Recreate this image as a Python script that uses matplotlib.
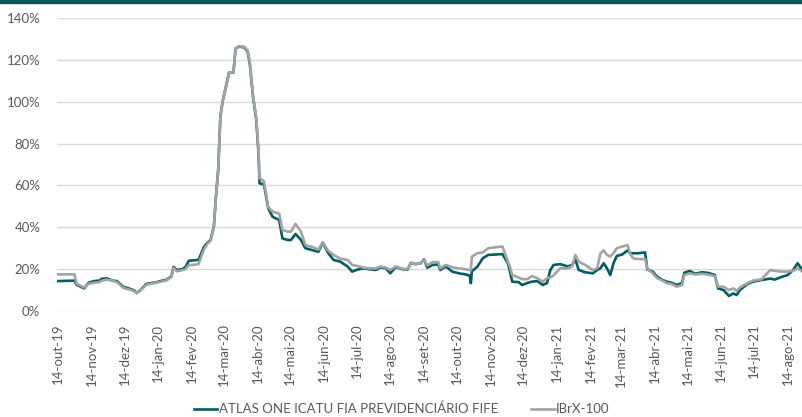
import pandas as pd
import matplotlib.pyplot as plt
from matplotlib.patches import Rectangle
from matplotlib.ticker import PercentFormatter

plt.rcParams["font.family"] = ["Lato", "DejaVu Sans"]

dates = [
    "2019-10-14", "2019-10-29", "2019-10-31", "2019-11-07", "2019-11-11", "2019-11-16",
    "2019-11-21", "2019-11-23", "2019-11-28", "2019-12-03", "2019-12-07", "2019-12-13",
    "2019-12-18", "2019-12-23", "2019-12-25", "2019-12-29", "2020-01-03", "2020-01-07",
    "2020-01-12", "2020-01-16", "2020-01-21", "2020-01-26", "2020-01-28", "2020-01-31",
    "2020-02-05", "2020-02-08", "2020-02-11", "2020-02-16", "2020-02-20", "2020-02-25",
    "2020-02-28", "2020-03-02", "2020-03-05", "2020-03-07", "2020-03-09", "2020-03-11",
    "2020-03-13", "2020-03-16", "2020-03-19", "2020-03-23", "2020-03-25", "2020-03-28",
    "2020-04-02", "2020-04-05", "2020-04-07", "2020-04-10", "2020-04-13", "2020-04-15",
    "2020-04-16", "2020-04-20", "2020-04-24", "2020-04-28", "2020-05-04", "2020-05-07",
    "2020-05-12", "2020-05-15", "2020-05-19", "2020-05-24", "2020-05-28", "2020-06-04",
    "2020-06-09", "2020-06-13", "2020-06-18", "2020-06-23", "2020-06-29", "2020-07-06",
    "2020-07-10", "2020-07-15", "2020-07-20", "2020-07-25", "2020-08-01", "2020-08-05",
    "2020-08-10", "2020-08-14", "2020-08-19", "2020-08-25", "2020-08-30", "2020-09-02",
    "2020-09-06", "2020-09-11", "2020-09-14", "2020-09-17", "2020-09-22", "2020-09-27",
    "2020-09-29", "2020-10-04", "2020-10-10", "2020-10-16", "2020-10-22", "2020-10-26",
    "2020-10-27", "2020-10-28", "2020-11-02", "2020-11-07", "2020-11-12", "2020-11-19",
    "2020-11-25", "2020-11-30", "2020-12-02", "2020-12-04", "2020-12-10", "2020-12-13",
    "2020-12-18", "2020-12-22", "2020-12-27", "2021-01-01", "2021-01-05", "2021-01-08",
    "2021-01-11", "2021-01-17", "2021-01-24", "2021-01-28", "2021-01-31", "2021-02-03",
    "2021-02-09", "2021-02-16", "2021-02-20", "2021-02-23", "2021-02-26", "2021-03-01",
    "2021-03-04", "2021-03-07", "2021-03-10", "2021-03-15", "2021-03-20", "2021-03-22",
    "2021-03-25", "2021-03-30", "2021-04-05", "2021-04-07", "2021-04-12", "2021-04-16",
    "2021-04-21", "2021-04-25", "2021-04-30", "2021-05-04", "2021-05-09", "2021-05-11",
    "2021-05-16", "2021-05-21", "2021-05-27", "2021-06-02", "2021-06-08", "2021-06-11",
    "2021-06-16", "2021-06-21", "2021-06-25", "2021-06-28", "2021-07-01", "2021-07-08",
    "2021-07-13", "2021-07-21", "2021-07-29", "2021-08-02", "2021-08-09", "2021-08-14",
    "2021-08-19", "2021-08-23", "2021-08-27",
]

# volatility of the fund, in %
atlas = [
    14.3, 14.5, 12.5, 10.8, 13.5, 14.3, 14.5, 15.4, 15.6, 14.5, 14.3, 11.5,
    10.8, 9.8, 8.5, 10.2, 12.9, 13.3, 13.7, 14.3, 14.8, 16.5, 21.0, 19.6,
    20.0, 21.0, 24.0, 24.2, 24.4, 30.7, 32.5, 33.9, 40.3, 55.0, 67.4, 92.9,
    100.0, 107.0, 113.9, 113.9, 125.5, 126.3, 126.0, 124.0, 118.3, 102.4, 91.3, 75.5,
    61.0, 60.5, 49.0, 45.0, 43.5, 34.7, 33.9, 34.0, 36.8, 34.0, 30.0, 29.0,
    28.3, 32.7, 27.7, 24.4, 23.6, 21.2, 18.8, 19.8, 20.4, 20.0, 19.6, 20.9,
    20.4, 18.0, 21.0, 20.0, 19.8, 23.0, 22.4, 22.8, 24.7, 20.7, 22.0, 22.3,
    19.6, 21.3, 18.8, 18.0, 17.5, 16.9, 13.3, 19.0, 21.2, 25.2, 26.8, 27.0,
    27.2, 22.8, 18.8, 14.0, 13.8, 12.4, 13.4, 14.0, 14.3, 12.4, 13.4, 19.6,
    22.0, 22.4, 21.3, 22.0, 24.7, 19.6, 18.5, 18.0, 19.6, 20.4, 22.8, 20.4,
    17.2, 22.8, 26.3, 27.0, 29.0, 27.6, 27.6, 27.6, 28.0, 19.9, 18.8, 16.4,
    14.8, 14.0, 13.4, 12.4, 13.4, 18.3, 19.1, 17.8, 18.5, 18.2, 17.2, 10.8,
    10.0, 7.2, 8.4, 7.6, 10.0, 12.9, 14.0, 14.8, 15.5, 15.0, 16.4, 17.2,
    19.6, 22.8, 20.0,
]

# volatility of the benchmark, in %
ibrx = [
    17.5, 17.5, 13.0, 11.2, 13.0, 13.5, 13.8, 14.5, 15.0, 14.5, 13.8, 11.0,
    10.3, 9.5, 8.5, 10.0, 12.5, 13.0, 13.5, 14.0, 14.5, 16.2, 20.5, 19.0,
    19.5, 20.0, 22.0, 22.0, 22.5, 29.5, 32.0, 33.5, 40.0, 55.0, 67.0, 92.0,
    100.0, 107.0, 114.0, 114.0, 125.5, 126.5, 126.3, 124.5, 119.0, 103.0, 92.0, 77.0,
    63.5, 62.0, 49.5, 47.5, 46.5, 38.7, 37.9, 38.0, 41.6, 38.0, 31.5, 30.5,
    29.3, 32.8, 28.8, 26.8, 25.0, 24.4, 22.0, 21.5, 20.8, 20.4, 20.3, 21.3,
    20.7, 19.6, 21.3, 20.2, 20.0, 23.0, 22.4, 22.8, 24.5, 21.8, 23.4, 23.4,
    20.4, 22.0, 20.9, 20.4, 20.0, 19.5, 19.5, 26.0, 27.6, 28.0, 30.0, 30.5,
    30.8, 23.6, 21.0, 17.2, 16.0, 15.2, 15.2, 16.7, 15.7, 14.0, 15.7, 16.0,
    17.0, 20.4, 20.4, 21.3, 26.8, 23.6, 22.0, 19.6, 20.4, 27.6, 29.0, 26.8,
    26.0, 27.6, 30.0, 30.8, 31.5, 27.6, 25.2, 24.8, 24.8, 20.4, 18.0, 15.7,
    14.5, 13.3, 12.8, 11.6, 12.4, 17.2, 18.0, 17.4, 17.8, 17.4, 16.7, 11.6,
    11.6, 10.0, 10.8, 9.6, 11.2, 13.3, 14.5, 15.2, 19.6, 19.2, 18.8, 18.8,
    19.2, 20.4, 19.0,
]

# monthly ticks on the 14th, portuguese month names
tick_dates = pd.date_range("2019-10-01", "2021-08-01", freq="MS") + pd.Timedelta(days=13)
meses = ["jan", "fev", "mar", "abr", "mai", "jun", "jul", "ago", "set", "out", "nov", "dez"]
tick_labels = ["14-%s-%s" % (meses[d.month - 1], d.strftime("%y")) for d in tick_dates]

df = pd.DataFrame({"atlas": atlas, "ibrx": ibrx}, index=pd.to_datetime(dates))

teal = "#005e60"
grey = "#a3a3a3"
text_c = "#595959"

fig = plt.figure(figsize=(8.03, 4.17), dpi=100)
ax = fig.add_axes([57 / 803, 106 / 417, 746 / 803, 293 / 417])

(l1,) = ax.plot(df.index, df["atlas"], c=teal, lw=1.9, zorder=3)
(l2,) = ax.plot(df.index, df["ibrx"], c=grey, lw=1.9, zorder=4)

ax.set_ylim(0, 140)
ax.set_yticks(range(0, 141, 20))
ax.yaxis.set_major_formatter(PercentFormatter(decimals=0))
ax.set_xlim(pd.Timestamp("2019-10-13"), pd.Timestamp("2021-08-28"))
ax.set_xticks(tick_dates)
ax.set_xticklabels(tick_labels, rotation=90, ha="center")

ax.grid(axis="y", color="#d9d9d9", lw=1)
ax.set_axisbelow(True)
for s in ax.spines.values():
    s.set_visible(False)
ax.tick_params(length=0, labelsize=9.5, colors=text_c)
ax.tick_params(axis="x", pad=9)
ax.tick_params(axis="y", pad=12)

fig.legend(
    [l1, l2],
    ["ATLAS ONE ICATU FIA PREVIDENCIÁRIO FIFE", "IBrX-100"],
    loc="center",
    bbox_to_anchor=(0.5, 8 / 417),
    ncol=2,
    frameon=False,
    fontsize=9.5,
    labelcolor=text_c,
    handlelength=1.8,
    handletextpad=0.1,
    columnspacing=2.5,
)

# dark band across the top
fig.patches.append(
    Rectangle((0, 1 - 3 / 417), 1, 3 / 417, transform=fig.transFigure, color="#005a5c")
)

fig.savefig("out.png", dpi=100)
